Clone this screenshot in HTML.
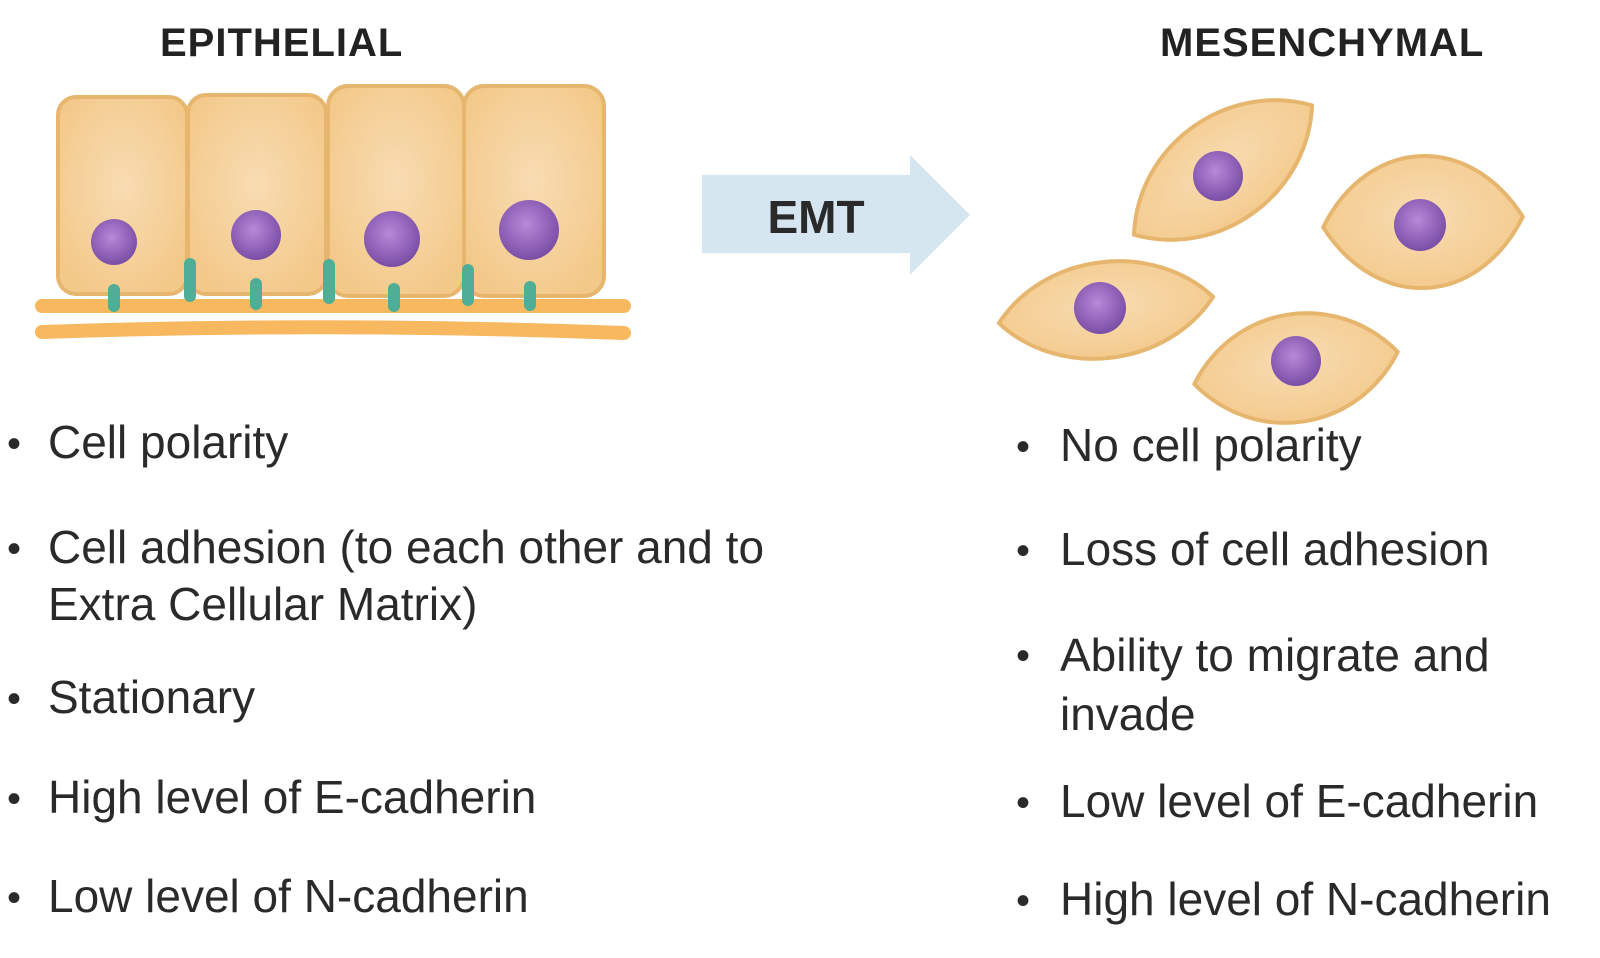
<!DOCTYPE html>
<html><head><meta charset="utf-8"><style>
body{margin:0;background:#fff;width:1600px;height:958px;overflow:hidden;position:relative;font-family:"Liberation Sans",sans-serif;color:#2a2a2a}
svg{position:absolute;left:0;top:0}
.t{position:absolute;font-size:46px;line-height:57px;white-space:nowrap}
.b{position:absolute;font-size:40px;line-height:57px}
h1{position:absolute;margin:0;font-size:40px;font-weight:bold;letter-spacing:1px;color:#222}
</style></head><body>
<svg width="1600" height="958" viewBox="0 0 1600 958">
<defs>
<radialGradient id="cg" cx="50%" cy="45%" r="60%"><stop offset="0" stop-color="#f8dcb2"/><stop offset="1" stop-color="#f3c98a"/></radialGradient>
<radialGradient id="ng" cx="45%" cy="40%" r="60%"><stop offset="0" stop-color="#b888d8"/><stop offset="1" stop-color="#7a4ea6"/></radialGradient>
</defs>
<g stroke="#e7b66e" stroke-width="4" fill="url(#cg)">
<rect x="58" y="97" width="129" height="197" rx="18"/>
<rect x="188" y="95" width="138" height="199" rx="18"/>
<rect x="328" y="86" width="136" height="210" rx="20"/>
<rect x="464" y="86" width="140" height="210" rx="20"/>
</g>
<g stroke="#f7b860" stroke-width="14" stroke-linecap="round" fill="none">
<path d="M42 306 L624 306"/>
<path d="M42 332 Q330 322 624 333"/>
</g>
<g stroke="#4fae96" stroke-width="12" stroke-linecap="round">
<path d="M114 290 V306"/><path d="M256 284 V304"/><path d="M394 289 V306"/><path d="M530 287 V305"/>
<path d="M190 264 V296"/><path d="M329 265 V298"/><path d="M468 270 V300"/>
</g>
<g fill="url(#ng)">
<circle cx="114" cy="242" r="23"/><circle cx="256" cy="235" r="25"/><circle cx="392" cy="239" r="28"/><circle cx="529" cy="230" r="30"/>
</g>
<path d="M702 175 H910 V155 L970 215 L910 275 V253 H702 Z" fill="#d6e6f0"/>
<text x="816" y="233" font-size="46" font-weight="bold" text-anchor="middle" fill="#2a2a2a" font-family="Liberation Sans">EMT</text>
<g stroke="#e7b66e" stroke-width="4" fill="url(#cg)" stroke-linejoin="round">
<path transform="translate(1223,170) rotate(-36)" d="M-110 0 C-55 -70 55 -70 110 0 C55 70 -55 70 -110 0Z"/>
<path transform="translate(1423,222) rotate(-3)" d="M-100 0 C-50 -88 50 -88 100 0 C50 88 -50 88 -100 0Z"/>
<path transform="translate(1106,310) rotate(-7)" d="M-108 0 C-54 -64 54 -64 108 0 C54 64 -54 64 -108 0Z"/>
<path transform="translate(1296,368) rotate(-9)" d="M-103 0 C-51 -72 51 -72 103 0 C51 72 -51 72 -103 0Z"/>
</g>
<g fill="url(#ng)">
<circle cx="1218" cy="176" r="25"/><circle cx="1420" cy="225" r="26"/><circle cx="1100" cy="308" r="26"/><circle cx="1296" cy="361" r="25"/>
</g>
</svg>
<h1 style="left:160px;top:21px">EPITHELIAL</h1>
<h1 style="left:1160px;top:21px">MESENCHYMAL</h1>
<div class="b" style="left:7px;top:416px">•</div><div class="t" style="left:48px;top:414px">Cell polarity</div>
<div class="b" style="left:7px;top:521px">•</div><div class="t" style="left:48px;top:519px">Cell adhesion (to each other and to<br>Extra Cellular Matrix)</div>
<div class="b" style="left:7px;top:671px">•</div><div class="t" style="left:48px;top:669px">Stationary</div>
<div class="b" style="left:7px;top:771px">•</div><div class="t" style="left:48px;top:769px">High level of E-cadherin</div>
<div class="b" style="left:7px;top:870px">•</div><div class="t" style="left:48px;top:868px">Low level of N-cadherin</div>
<div class="b" style="left:1016px;top:419px">•</div><div class="t" style="left:1060px;top:417px">No cell polarity</div>
<div class="b" style="left:1016px;top:523px">•</div><div class="t" style="left:1060px;top:521px">Loss of cell adhesion</div>
<div class="b" style="left:1016px;top:628px">•</div><div class="t" style="left:1060px;top:626px;line-height:59px">Ability to migrate and<br>invade</div>
<div class="b" style="left:1016px;top:775px">•</div><div class="t" style="left:1060px;top:773px">Low level of E-cadherin</div>
<div class="b" style="left:1016px;top:873px">•</div><div class="t" style="left:1060px;top:871px">High level of N-cadherin</div>
</body></html>
